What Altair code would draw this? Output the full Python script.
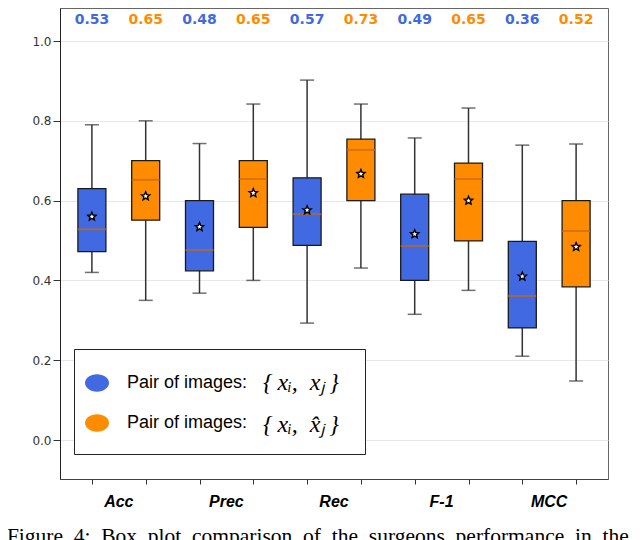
import altair as alt
import pandas as pd

metrics = ["Acc", "Prec", "Rec", "F-1", "MCC"]
groups = ["a", "b"]
group_text = "Pair of images:"
group_math = ["{\u2009xᵢ,\u2002xⱼ\u2009}", "{\u2009xᵢ,\u2002x̂ⱼ\u2009}"]

blue_low = [0.42, 0.368, 0.293, 0.315, 0.21]
blue_q1 = [0.472, 0.424, 0.488, 0.40, 0.281]
blue_med = [0.528, 0.476, 0.566, 0.486, 0.361]
blue_q3 = [0.63, 0.60, 0.657, 0.616, 0.498]
blue_high = [0.79, 0.743, 0.902, 0.757, 0.739]
blue_mean = [0.56, 0.534, 0.576, 0.516, 0.41]

orange_low = [0.35, 0.40, 0.431, 0.375, 0.148]
orange_q1 = [0.551, 0.533, 0.60, 0.499, 0.384]
orange_med = [0.652, 0.654, 0.727, 0.654, 0.524]
orange_q3 = [0.70, 0.70, 0.754, 0.694, 0.60]
orange_high = [0.80, 0.842, 0.842, 0.832, 0.742]
orange_mean = [0.611, 0.619, 0.667, 0.60, 0.484]

y_ticks = [0.0, 0.2, 0.4, 0.6, 0.8, 1.0]
caption_words = ["Figure", "4:", "Box", "plot", "comparison", "of", "the",
                 "surgeons", "performance", "in", "the"]

box_colors = ["#4169E1", "#FF8C00"]

rows = []
stats = [
    (blue_low, blue_q1, blue_med, blue_q3, blue_high, blue_mean),
    (orange_low, orange_q1, orange_med, orange_q3, orange_high, orange_mean),
]
for i, m in enumerate(metrics):
    for g, (lo, q1, med, q3, hi, mean) in enumerate(stats):
        rows.append(dict(metric=m, group=groups[g], math=group_math[g], pos=2 * i + 1 + g,
                         low=lo[i], q1=q1[i], med=med[i], q3=q3[i],
                         high=hi[i], mean=mean[i]))
df = pd.DataFrame(rows)
lab = pd.DataFrame({"metric": metrics, "pos": [2 * i + 1.5 for i in range(len(metrics))]})

W, H = 548, 471
xscale = alt.Scale(domain=[0.5, 10.5], nice=False, zero=False)
xaxis = alt.Axis(values=list(range(1, 11)), labels=False, grid=False, tickSize=5,
                 tickColor="#333", domainColor="#444", title=None)
yscale = alt.Scale(domain=[-39 / 399, 432 / 399], nice=False, zero=False)
yaxis = alt.Axis(values=y_ticks, format=".1f", labelFont="DejaVu Sans", labelFontSize=12,
                 labelColor="#333", tickColor="#333", tickSize=7, labelPadding=2,
                 gridColor="#e8e8e8", domainColor="#222", title=None)

X = alt.X("pos:Q", scale=xscale, axis=xaxis)
fill_scale = alt.Scale(domain=groups, range=box_colors)
legend = alt.Legend(orient="none", legendX=14, legendY=341, title=None,
                    fillColor="white", strokeColor="#222", padding=22,
                    symbolType="M-1,0A1,0.72,0,1,0,1,0A1,0.72,0,1,0,-1,0Z",
                    symbolSize=576, symbolOpacity=1, symbolStrokeWidth=0, symbolOffset=-11,
                    rowPadding=19, labelFont="Liberation Sans",
                    labelFontSize=18, labelColor="black", labelOffset=18,
                    labelLimit=400, cornerRadius=0,
                    labelExpr="'" + group_text + "\u00a0" * 19 + "\u200b'")
legend_math = alt.Legend(orient="none", legendX=179, legendY=363, title=None, padding=0,
                         symbolType="circle", symbolSize=4, symbolOpacity=0,
                         symbolStrokeWidth=0, labelOffset=0, rowPadding=18,
                         labelFont="Liberation Serif", labelFontStyle="italic",
                         labelFontSize=24, labelColor="black", labelLimit=400)

base = alt.Chart(df)

whisk = base.mark_rule(color="#333", strokeWidth=1.5).encode(
    x=X, y=alt.Y("low:Q", scale=yscale, axis=yaxis), y2="high:Q")
caps_lo = base.mark_tick(orient="horizontal", size=14, thickness=1.5, color="#333").encode(
    x=X, y=alt.Y("low:Q", scale=yscale, axis=yaxis))
caps_hi = base.mark_tick(orient="horizontal", size=14, thickness=1.5, color="#333").encode(
    x=X, y=alt.Y("high:Q", scale=yscale, axis=yaxis))
boxes = base.mark_bar(size=28, stroke="#1a1a1a", strokeWidth=1.3).encode(
    x=X, y=alt.Y("q1:Q", scale=yscale, axis=yaxis), y2="q3:Q",
    fill=alt.Fill("group:N", scale=fill_scale, legend=legend))
medians = base.mark_tick(orient="horizontal", size=28, thickness=2, color="#C8690F").encode(
    x=X, y=alt.Y("med:Q", scale=yscale, axis=yaxis))
star = ("M0,-1L0.265,-0.364L0.951,-0.309L0.428,0.139L0.588,0.809L0,0.45"
        "L-0.588,0.809L-0.428,0.139L-0.951,-0.309L-0.265,-0.364Z")
means = base.mark_point(shape=star, size=75, filled=True, fill="white", stroke="black",
                        strokeWidth=1.4, opacity=1).encode(
    x=X, y=alt.Y("mean:Q", scale=yscale, axis=yaxis))
tops = base.mark_text(font="DejaVu Sans", fontWeight="bold", fontSize=14, baseline="middle").encode(
    x=X, y=alt.value(12), text=alt.Text("med:Q", format=".2f"),
    fill=alt.Fill("group:N", scale=fill_scale, legend=None))
math_layer = base.mark_point(size=0).encode(
    x=X, y=alt.Y("med:Q", scale=yscale, axis=yaxis),
    stroke=alt.Stroke("math:N", scale=alt.Scale(domain=group_math, range=["black", "black"]),
                      legend=legend_math))
labels = alt.Chart(lab).mark_text(font="Liberation Sans", fontStyle="italic", fontWeight="bold",
                                  fontSize=16, baseline="middle").encode(
    x=X, y=alt.value(494), text="metric:N")

chart = alt.layer(whisk, caps_lo, caps_hi, boxes, medians, means, tops,
                  math_layer, labels).properties(
    width=W, height=H,
    autosize=alt.AutoSizeParams(type="none"),
    padding={"left": 52, "top": 0, "right": 24, "bottom": 62},
    title=alt.TitleParams("\u00a0\u00a0".join(caption_words), orient="bottom", anchor="start",
                          font="Liberation Serif", fontSize=21.5, fontWeight="normal",
                          color="black", dx=-25, offset=16),
).configure_view(stroke="#666", strokeWidth=1)

chart.save("out.html", embed_options={"renderer": "svg", "actions": False})
